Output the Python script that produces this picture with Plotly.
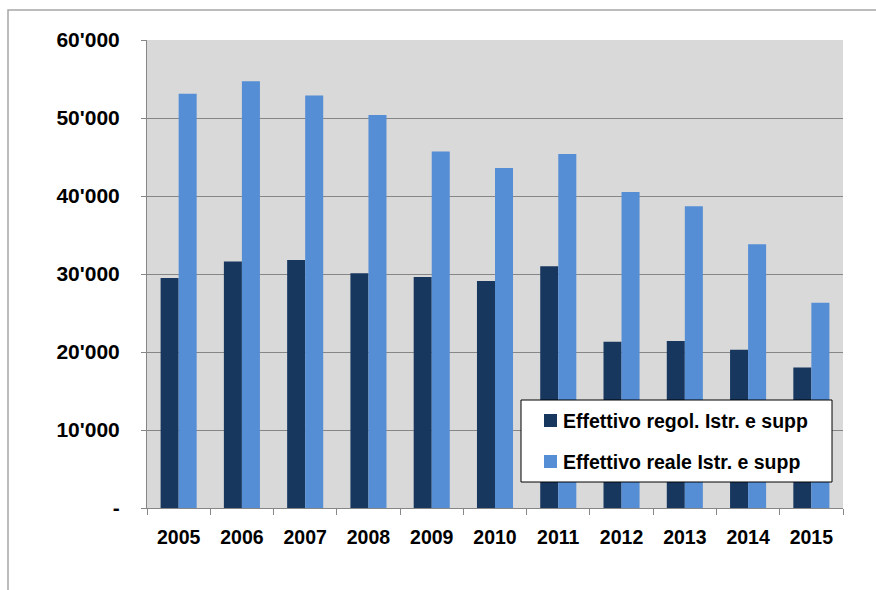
import plotly.graph_objects as go

years = ["2005", "2006", "2007", "2008", "2009", "2010", "2011", "2012", "2013", "2014", "2015"]
regol = [29500, 31600, 31800, 30100, 29600, 29100, 31000, 21300, 21400, 20300, 18000]
reale = [53100, 54700, 52900, 50400, 45700, 43600, 45400, 40500, 38700, 33800, 26300]
ytick_vals = [0, 10000, 20000, 30000, 40000, 50000, 60000]
ytick_text = ["-", "10'000", "20'000", "30'000", "40'000", "50'000", "60'000"]
names = ["Effettivo regol. Istr. e supp", "Effettivo reale Istr. e supp"]
colors = ["#17375E", "#558ED5"]

FONT = "Liberation Sans"
fig = go.Figure()
fig.add_trace(go.Bar(x=years, y=regol, name=names[0],
                     marker=dict(color=colors[0], line=dict(width=0))))
fig.add_trace(go.Bar(x=years, y=reale, name=names[1],
                     marker=dict(color=colors[1], line=dict(width=0))))

L, R, T, B = 147, 33, 40, 82
W, H = 876, 590
pw, ph = W - L - R, H - T - B

def px(x):
    return (x - L) / pw

def py(y):
    return (H - B - y) / ph

shapes = [
    dict(type="rect", xref="paper", yref="paper",
         x0=px(8), x1=px(890), y0=py(605), y1=py(10),
         line=dict(color="#A6A6A6", width=1.5), fillcolor="rgba(0,0,0,0)", layer="below"),
    # legend box
    dict(type="rect", xref="paper", yref="paper",
         x0=px(521), x1=px(832), y0=py(482), y1=py(400),
         line=dict(color="black", width=1), fillcolor="white", layer="above"),
]
annotations = []
rows = [420.5, 461.5]
for i, yc in enumerate(rows):
    shapes.append(dict(type="rect", xref="paper", yref="paper",
                       x0=px(544), x1=px(557), y0=py(yc + 6.5), y1=py(yc - 6.5),
                       line=dict(width=0), fillcolor=colors[i], layer="above"))
    annotations.append(dict(xref="paper", yref="paper", x=px(561), y=py(yc),
                            xanchor="left", yanchor="middle", showarrow=False,
                            text="<b>" + names[i] + "</b>",
                            font=dict(family=FONT, size=19.5, color="black")))

fig.update_layout(
    width=W, height=H,
    margin=dict(l=L, r=R, t=T, b=B, pad=0),
    paper_bgcolor="white",
    plot_bgcolor="#D9D9D9",
    barmode="group",
    bargap=0.43,
    bargroupgap=0,
    font=dict(family=FONT, size=19, color="black"),
    showlegend=False,
    xaxis=dict(type="category", showgrid=False, showline=True, linecolor="#868686", linewidth=1,
               ticks="outside", tickson="boundaries", ticklen=6, tickcolor="#868686",
               tickfont=dict(family=FONT, size=19.5, color="black", weight="bold"),
               ticklabelstandoff=12),
    yaxis=dict(range=[0, 60000], tickvals=ytick_vals, ticktext=ytick_text,
               showgrid=True, gridcolor="#868686", gridwidth=1,
               showline=True, linecolor="#868686", linewidth=1,
               ticks="outside", ticklen=5, tickcolor="#868686",
               tickfont=dict(family=FONT, size=21, color="black", weight="bold"),
               ticklabelstandoff=17, zeroline=False),
    shapes=shapes,
    annotations=annotations,
)
fig.write_html("out.html")
